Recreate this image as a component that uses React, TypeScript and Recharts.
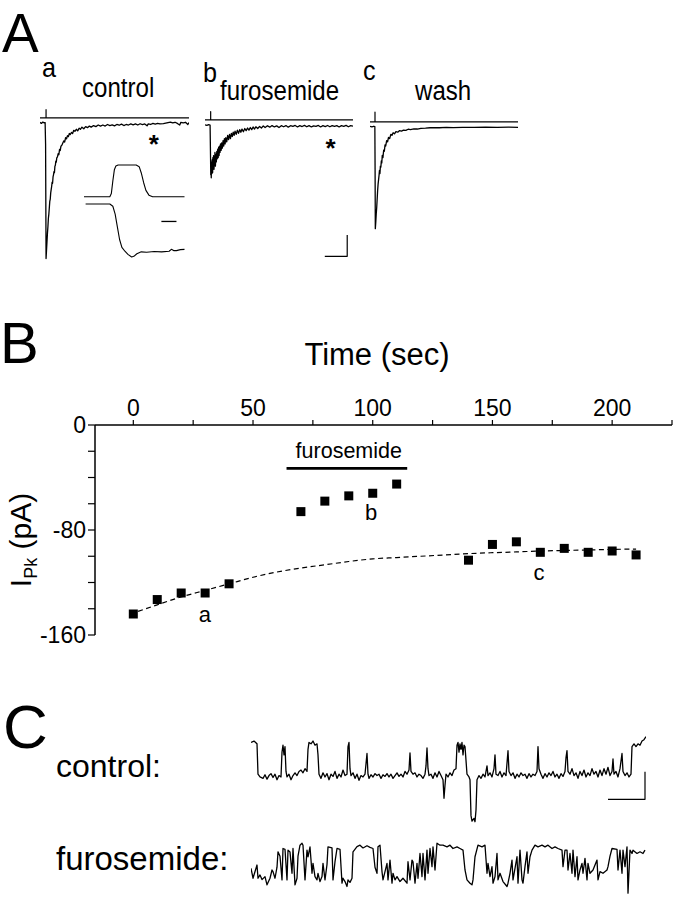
import React from 'react';
import { LineChart, Line, XAxis, YAxis, ComposedChart, Scatter, ReferenceDot } from 'recharts';

const FONT = '"Liberation Sans", Arial, Helvetica, sans-serif';

// ---------- Panel B: peak current vs time ----------
const bTimeSec = [0, 10, 20, 30, 40, 70, 80, 90, 100, 110, 140, 150, 160, 170, 180, 190, 200, 210];
const bPeakCurrent = [-144, -133, -128, -128, -121, -66, -58, -54, -52, -45, -103, -91, -89, -97, -94, -97, -96, -99];
const bFitTime = [2, 10, 20, 30, 40, 50, 60, 70, 80, 90, 100, 110, 120, 130, 140, 150, 160, 170, 180, 190, 200, 210];
const bFitCurrent = [-142, -137, -131, -126, -121, -116, -112, -109, -106.5, -104, -102, -101, -100, -99, -98, -97.3, -96.7, -96, -95.6, -95.2, -94.8, -94.5];
const bXTicks = [0, 25, 50, 75, 100, 125, 150, 175, 200, 225];
const bXLabeled = [0, 50, 100, 150, 200];
const bYTicks = [-160, -140, -120, -100, -80, -60, -40, -20, 0];
const bYLabeled = [0, -80, -160];
const bDrugBar: [number, number][] = [[64, -33], [114.4, -33]];

// ---------- Panel A: whole-cell currents (t ms, I pA) ----------
const aControlCurrent: [number, number][] = [
  [0, 0.5], [6, -0.5], [12, 0.8], [18, 0], [22, 0.3], [24, -20], [26, -128], [28, -120], [30, -112], [32, -104],
  [34, -98], [36, -90], [38, -86], [40, -80], [42, -74], [44, -72], [46, -66], [48, -63], [50, -60], [52, -56],
  [54, -57], [56, -51], [58, -49], [60, -46], [62, -47], [64, -41], [66, -40], [68, -36], [70, -37], [72, -33],
  [75, -32], [78, -29], [81, -30], [84, -25], [87, -26], [90, -22], [94, -21], [98, -19], [102, -17], [106, -18],
  [110, -14], [114, -15], [118, -12], [122, -13], [126, -10], [130, -11], [135, -9], [140, -10], [145, -7], [150, -8],
  [156, -6], [162, -7.5], [168, -5], [174, -6], [180, -4], [188, -5.5], [196, -3.5], [204, -4.5], [212, -3], [220, -4],
  [230, -2.5], [240, -3.5], [250, -2], [260, -3], [270, -2], [280, -3], [290, -1.5], [300, -2.5], [310, -1.8], [320, -2.8],
  [330, -1.5], [340, -2.2], [350, -1.2], [360, -2.5], [370, -1.5], [380, -2], [390, -1], [400, -1.8], [410, -1], [420, -2],
  [430, -0.8], [440, -1.6], [450, -1], [460, -2.8], [465, -1], [475, -1.5], [485, -0.5], [495, -1.2], [505, -0.5], [515, -1],
  [530, -0.6], [550, 0.3], [560, 0.8], [570, 0], [580, 0.6], [590, -0.5], [600, -2], [605, 0.5], [615, 0], [625, 0.6],
  [635, -1.5], [640, 0.3],
];
const aFuroCurrent: [number, number][] = [
  [0, 1], [8, 0.5], [16, 1.2], [22, 0.8], [24, -30], [25, -46], [26, -34], [27, -49], [28, -38], [30, -45],
  [31, -32], [33, -44], [34, -30], [36, -40], [37, -28], [39, -41], [40, -30], [42, -36], [43, -25], [45, -38],
  [47, -27], [49, -34], [51, -24], [53, -31], [55, -22], [57, -30], [59, -20], [61, -28], [63, -19], [65, -25],
  [67, -17], [70, -23], [72, -16], [75, -21], [78, -14], [81, -19], [84, -12], [87, -17], [90, -11], [94, -15],
  [98, -9], [102, -13], [106, -8], [110, -12], [114, -7], [118, -10], [122, -6], [126, -9], [130, -5], [135, -8],
  [140, -4], [145, -7], [150, -3.5], [155, -6], [160, -3], [166, -5.5], [172, -2.5], [178, -4.5], [184, -2], [190, -4],
  [196, -1.5], [202, -3.5], [208, -1], [214, -3], [220, -0.8], [228, -2.5], [236, -0.5], [244, -2], [252, 0], [260, -1.5],
  [270, 0.2], [280, -1.2], [290, 0.3], [300, -1], [310, 0], [320, -1.5], [330, 0.2], [340, -0.8], [350, 0.3], [360, -1.2],
  [370, 0.2], [380, -0.5], [390, 0.4], [400, -1], [410, 0.2], [420, -0.6], [430, 0.5], [440, -0.8], [450, 0.3], [460, -1],
  [470, 0], [480, -0.5], [490, 0.4], [500, -1], [510, 0.2], [520, -0.6], [530, 0.4], [540, -0.8], [550, 0.3], [560, -0.5],
  [570, 0.2], [580, -1], [590, 0.3], [600, -0.4], [610, 0.5], [620, -0.8], [630, 0.2], [640, -0.3],
];
const aWashCurrent: [number, number][] = [
  [0, 0.5], [8, 0], [16, 0.6], [21, 0.2], [22, -40], [23, -96], [25, -90], [27, -82], [29, -76], [31, -68],
  [33, -60], [35, -54], [37, -50], [39, -46], [41, -41], [43, -44], [45, -37], [47, -38], [49, -32], [51, -34],
  [53, -27], [56, -29], [59, -22], [62, -23], [65, -17], [68, -18], [72, -13], [76, -14], [80, -10], [85, -11],
  [90, -7], [95, -8], [100, -5.5], [106, -6.5], [112, -4.5], [120, -5], [128, -3.5], [136, -4], [145, -3], [155, -3.3],
  [165, -2.2], [175, -2.6], [190, -1.8], [205, -2], [220, -1.3], [240, -1.1], [260, -0.8], [280, -0.7], [300, -0.8], [330, -0.5],
  [360, -0.6], [400, -0.4], [450, -0.5], [500, -0.3], [550, -0.4], [600, -0.3], [640, -0.4],
];
const aStimControl: [number, number][] = [[0, 4.7], [26, 4.7], [26, 12.5], [26, 4.7], [640, 4.7]];
const aStimFuro: [number, number][] = [[0, 5.7], [24.5, 5.7], [24.5, 13.5], [24.5, 5.7], [640, 5.7]];
const aStimWash: [number, number][] = [[0, 4.7], [21.6, 4.7], [21.6, 14], [21.6, 4.7], [640, 4.7]];
const aScaleBar: [number, number][] = [[518, -123], [615, -123], [615, -103]];

// inset (control): stimulus step and response, normalised units
const insetStep: [number, number][] = [
  [0, 0], [25.7, 0], [27.2, 0.1], [28.7, 0.5], [30.2, 0.85], [31.7, 0.97], [34, 1], [51.9, 1], [54.9, 0.95],
  [57, 0.75], [59.3, 0.45], [61.6, 0.2], [64.6, 0.05], [68.3, 0], [100, 0],
];
const insetResponse: [number, number][] = [
  [1.6, -0.23], [25.7, -0.23], [28.7, -0.3], [31, -0.55], [33.2, -0.95], [35.4, -1.35], [37.7, -1.6], [40.7, -1.72],
  [43.7, -1.82], [47.4, -1.9], [49.6, -1.88], [52.6, -1.8], [57, -1.74], [62.3, -1.75], [69.8, -1.73], [77.2, -1.74],
  [84.7, -1.72], [86.9, -1.66], [89.2, -1.7], [92, -1.7], [95.9, -1.67], [100, -1.66],
];
const insetBar: [number, number][] = [[77, -0.78], [92, -0.78]];

// ---------- Panel C: single channel records (t ms, I pA) ----------
const cControlChannel: [number, number][] = [
  [0, 1.25], [3, 1.3], [6, 1.2], [7, 0.1], [9, 0], [12, -0.05], [14, 0.08], [16, -0.08], [18, 0.05], [20, 0.12],
  [22, -0.02], [24, 0.1], [26, -0.1], [28, 0.05], [30, 0], [31, 0.9], [32, 1.15], [33, 0.8], [34, 1.1], [35, 0.2],
  [36, 0], [38, 0.1], [40, -0.1], [42, 0.05], [44, 0.15], [46, 0.05], [48, 0.2], [50, 0.25], [52, 0.15], [54, 0.3],
  [56, 0.2], [57, 1.0], [58, 1.25], [60, 1.2], [62, 1.3], [64, 1.15], [66, 1.2], [67, 0.8], [68, 0.1], [70, -0.05],
  [72, 0.15], [74, 0], [76, 0.12], [78, -0.1], [80, 0.1], [82, 0.02], [84, 0.2], [86, -0.05], [88, 0.1], [90, 0],
  [92, 0.25], [94, 0.05], [96, 0.1], [97, 1.1], [98, 1.25], [99, 0.3], [100, 0.05], [102, 0.15], [104, -0.05], [106, 0.1],
  [108, -0.12], [110, 0.05], [112, 0], [114, 0.1], [116, 0.85], [117, 0.1], [118, -0.05], [120, 0.08], [122, 0], [124, 0.12],
  [126, 0.05], [128, 0.1], [130, -0.05], [132, 0.08], [134, 0.02], [136, 0.12], [138, 0], [140, 0.1], [142, -0.05], [144, 0.05],
  [146, 0.15], [148, 0.02], [150, 0.1], [152, 0], [154, 0.2], [156, 0.1], [158, 0.25], [159, 0.87], [160, 0.2], [162, 0.1],
  [164, 0.15], [166, 0], [168, 0.1], [170, 0.05], [172, -0.05], [174, 0.1], [175, 0.4], [176, 1.05], [177, 0.3], [178, 0.05],
  [180, 0.1], [182, -0.05], [184, 0.15], [186, 0], [188, 0.2], [190, 0.05], [192, -0.1], [193, -0.77], [194, -0.3], [195, 0.1],
  [197, 0], [199, 0.15], [201, 0.05], [203, 0.25], [205, 0.3], [206, 1.15], [207, 1.25], [208, 0.9], [209, 1.2], [210, 1.0],
  [211, 1.25], [212, 0.8], [213, 1.15], [214, 1.1], [215, 0.6], [216, 0.1], [218, 0], [219, -0.1], [220, -1.4], [221, -1.6],
  [223, -1.5], [224, -1.62], [225, -1.2], [226, -0.1], [228, 0.05], [230, -0.05], [232, 0.1], [234, 0], [236, 0.4], [237, 0.05],
  [239, 0.15], [241, 0], [243, 0.3], [244, 0.8], [245, 0.1], [247, 0.05], [249, 0.2], [251, 0], [253, 0.15], [255, 0.05],
  [256, 0.5], [257, 0.95], [258, 0.2], [260, 0.05], [262, 0.15], [264, -0.05], [266, 0.1], [268, 0], [270, 0.15], [272, 0.05],
  [274, 0.1], [276, -0.05], [278, 0.12], [280, 0], [282, 0.1], [284, 0.05], [286, 0.2], [287, 1.1], [288, 0.3], [290, 0.1],
  [292, -0.05], [294, 0.12], [296, 0], [298, 0.15], [300, 0.05], [302, 0.2], [304, 0], [306, 0.1], [308, -0.05], [310, 0.12],
  [312, 0.02], [314, 0.2], [315, 0.7], [316, 0.95], [317, 0.2], [319, 0.1], [321, 0.3], [323, 0.05], [325, 0.15], [327, -0.05],
  [329, 0.2], [331, 0.05], [333, 0.25], [335, 0], [337, 0.15], [339, 0.05], [341, 0.3], [343, 0.1], [345, 0.2], [347, 0],
  [349, 0.25], [351, 0.05], [353, 0.3], [355, 0.1], [357, 0.35], [359, 0.05], [361, 0.2], [362, 0.65], [363, 0.1], [365, 0.2],
  [367, 0], [369, 0.3], [371, 0.85], [372, 0.2], [374, 0.05], [376, 0.15], [378, 0], [380, 0.1], [381, 1.1], [383, 1.2],
  [385, 1.1], [387, 1.2], [389, 1.15], [391, 1.3], [393, 1.35], [395, 1.46],
];
const cControlScale: [number, number][] = [[357, -0.81], [394, -0.81], [394, 0.19]];

const cFuroChannel: [number, number][] = [
  [0, 0.46], [2, 0.1], [6, 0.58], [7, 0.1], [9, 0.22], [11, 0.05], [14, 0.16], [16, -0.14], [19, 0.1], [21, 0.4],
  [22, 0.34], [24, 0.1], [26, 0.5], [27, 1.06], [29, 0.9], [31, 0.04], [32, 1.18], [34, 1.15], [36, 0.04], [37, 1.12],
  [39, 1.05], [41, 0.28], [42, 1.18], [44, -0.14], [46, 0.1], [47, 0.9], [49, 1.3], [51, 1.37], [52, 1.3], [54, 0.04],
  [56, 1.12], [57, 0.88], [59, 1.24], [61, 0.28], [62, 0.64], [64, 0.16], [66, 0.04], [67, 0.28], [69, -0.02], [71, 0.16],
  [72, 0.64], [74, 0.04], [76, 0.6], [77, 1.24], [81, 1.2], [82, 0.04], [84, 0.7], [86, 1.18], [89, 1.15], [91, -0.08],
  [92, 0.1], [94, -0.02], [96, -0.2], [97, 0.04], [99, -0.05], [101, 0.1], [102, 1.06], [106, 1.25], [109, 1.3], [112, 1.2],
  [116, 1.28], [119, 1.22], [122, 1.18], [124, 0.5], [126, 0.28], [127, 1.24], [129, 1.3], [131, 0.34], [132, 0.04], [136, 0.64],
  [137, 0.04], [139, 0.76], [141, -0.08], [142, 0.28], [144, 0.04], [146, 0.16], [149, -0.02], [152, 0.1], [156, -0.08], [157, 0.7],
  [159, 0.04], [161, 0.76], [162, 0.7], [164, -0.08], [166, 0.64], [167, 0.1], [169, 1.0], [171, 0.16], [172, 1.0], [174, 0.04],
  [176, 1.12], [177, 0.28], [179, 1.18], [181, 0.52], [182, 1.24], [184, 0.4], [186, 1.37], [189, 1.3], [192, 1.3], [196, 1.24],
  [199, 1.3], [202, 1.18], [206, 1.24], [209, 1.18], [212, 1.12], [214, 0.4], [216, 0.04], [219, -0.08], [221, -0.14], [222, 0.04],
  [224, 0.88], [227, 1.3], [231, 1.24], [234, 1.3], [236, 0.28], [237, 0.64], [239, 0.16], [241, 0.52], [242, -0.08], [244, 0.16],
  [246, 1.0], [247, 0.04], [249, 0.28], [252, -0.02], [256, -0.2], [257, -0.08], [259, 0.28], [261, 0.76], [262, 0.04], [266, 0.88],
  [267, -0.08], [269, 1.12], [271, 0.04], [272, -0.08], [274, 0.52], [276, 1.06], [277, 0.28], [279, 0.88], [281, 1.12], [284, 1.3],
  [287, 1.24], [291, 1.3], [294, 1.24], [297, 1.3], [301, 1.18], [304, 1.24], [307, 1.18], [311, 1.12], [312, 0.52], [314, 1.12],
  [316, 1.12], [317, 0.4], [319, 1.0], [321, 0.28], [322, 1.12], [324, 0.16], [326, 0.88], [327, 0.04], [329, 0.4], [331, 0.64],
  [332, 0.28], [334, 0.82], [336, 0.04], [337, 0.64], [339, 0.28], [342, 0.4], [346, 0.76], [347, 0.04], [349, 0.34], [352, 0.28],
  [356, 0.4], [357, 0.52], [359, 0.9], [361, 1.18], [366, 1.15], [367, 0.4], [369, 1.12], [371, 0.28], [372, 1.12], [374, 0.52],
  [376, 1.24], [377, -0.44], [379, 1.12], [381, 1.0], [382, 1.12], [386, 1.0], [389, 1.06], [392, 1.0], [394, 1.12],
];

const toRows = (pts: [number, number][]) => pts.map(([t, v]) => ({ t, v }));

const TextAt = (props: any) => {
  const { viewBox, text, size, weight, anchor } = props;
  const x = viewBox.x + (viewBox.width || 0) / 2;
  const y = viewBox.y + (viewBox.height || 0) / 2;
  return (
    <text x={x} y={y} textAnchor={anchor || 'middle'} fontSize={size} fontWeight={weight || 'normal'} fontFamily={FONT} fill="#000">
      {text}
    </text>
  );
};

type Series = { data: [number, number][]; w?: number };

function Trace(props: {
  left: number; top: number; width: number; height: number;
  xDomain: [number, number]; yDomain: [number, number];
  series: Series[]; children?: React.ReactNode;
}) {
  const { left, top, width, height, xDomain, yDomain, series, children } = props;
  return (
    <div style={{ position: 'absolute', left, top, width, height }}>
      <LineChart width={width} height={height} margin={{ top: 0, right: 0, bottom: 0, left: 0 }}>
        <XAxis type="number" dataKey="t" domain={xDomain} hide />
        <YAxis type="number" domain={yDomain} hide />
        {series.map((s, i) => (
          <Line key={i} data={toRows(s.data)} dataKey="v" type="linear" dot={false} stroke="#000"
            strokeWidth={s.w ?? 1.3} isAnimationActive={false} strokeLinejoin="round" />
        ))}
        {children}
      </LineChart>
    </div>
  );
}

const XTick = (props: any) => {
  const { x, y, payload } = props;
  if (!bXLabeled.includes(payload.value)) return null;
  return <text x={x} y={y} textAnchor="middle" fontSize={23} fontFamily={FONT} fill="#000">{payload.value}</text>;
};
const YTick = (props: any) => {
  const { x, y, payload } = props;
  if (!bYLabeled.includes(payload.value)) return null;
  return <text x={x} y={y} dy={8} textAnchor="end" fontSize={23} fontFamily={FONT} fill="#000">{payload.value}</text>;
};

// condensed label helper for panel A headings
const Cond = ({ x, y, size, sx, children }: { x: number; y: number; size: number; sx: number; children: React.ReactNode }) => (
  <text transform={`translate(${x}, ${y}) scale(${sx}, 1)`} fontSize={size}>{children}</text>
);

export default function App() {
  const bPoints = bTimeSec.map((t, i) => ({ t, v: bPeakCurrent[i] }));
  const bFit = bFitTime.map((t, i) => ({ t, v: bFitCurrent[i] }));
  const square = (p: any) => <rect x={p.cx - 4.5} y={p.cy - 4.5} width={9} height={9} fill="#000" />;

  return (
    <div style={{ position: 'absolute', left: 0, top: 0, width: 693, height: 900, background: '#fff', overflow: 'hidden' }}>
      {/* Panel A traces */}
      <Trace left={40} top={107.4} width={149} height={164.3} xDomain={[0, 640]} yDomain={[-140, 15]}
        series={[{ data: aStimControl, w: 1.2 }, { data: aControlCurrent }]}>
        <ReferenceDot x={489} y={-28} r={0} fill="none" stroke="none" label={<TextAt text="*" size={26} weight="bold" />} />
      </Trace>
      <Trace left={84} top={160} width={100.5} height={102} xDomain={[0, 100]} yDomain={[-2.06, 1.16]}
        series={[{ data: insetStep, w: 1.1 }, { data: insetResponse, w: 1.1 }, { data: insetBar, w: 1.3 }]} />
      <Trace left={205} top={110.1} width={148} height={164.3} xDomain={[0, 640]} yDomain={[-140, 15]}
        series={[{ data: aStimFuro, w: 1.2 }, { data: aFuroCurrent }, { data: aScaleBar, w: 1.2 }]}>
        <ReferenceDot x={543} y={-29} r={0} fill="none" stroke="none" label={<TextAt text="*" size={26} weight="bold" />} />
      </Trace>
      <Trace left={370} top={110.6} width={148} height={164.3} xDomain={[0, 640]} yDomain={[-140, 15]}
        series={[{ data: aStimWash, w: 1.2 }, { data: aWashCurrent }]} />

      {/* Panel B */}
      <div style={{ position: 'absolute', left: 0, top: 300, width: 693, height: 360 }}>
        <ComposedChart width={693} height={360} margin={{ top: 95, right: 21, bottom: 25, left: 35 }}>
          <XAxis xAxisId={0} type="number" dataKey="t" orientation="top" height={30} domain={[-16, 225]} ticks={bXTicks}
            interval={0} tickSize={5} tickMargin={4} axisLine={{ stroke: '#000', strokeWidth: 1.5 }}
            tickLine={{ stroke: '#000', strokeWidth: 1.2 }} tick={<XTick />} />
          <YAxis yAxisId={0} type="number" width={60} domain={[-160, 0]} ticks={bYTicks} interval={0} tickSize={7} tickMargin={2}
            axisLine={{ stroke: '#000', strokeWidth: 1.5 }} tickLine={{ stroke: '#000', strokeWidth: 1.2 }} tick={<YTick />} />
          <Line data={bFit} dataKey="v" type="monotone" dot={false} stroke="#000" strokeWidth={1.2}
            strokeDasharray="5 3.5" isAnimationActive={false} />
          <Line data={toRows(bDrugBar)} dataKey="v" type="linear" dot={false} stroke="#000" strokeWidth={2.7}
            isAnimationActive={false} />
          <Scatter data={bPoints} dataKey="v" shape={square} isAnimationActive={false} />
          <ReferenceDot x={90} y={-25.1} r={0} fill="none" stroke="none" label={<TextAt text="furosemide" size={21.5} />} />
          <ReferenceDot x={29.9} y={-149.8} r={0} fill="none" stroke="none" label={<TextAt text="a" size={22} />} />
          <ReferenceDot x={99.3} y={-72.4} r={0} fill="none" stroke="none" label={<TextAt text="b" size={22} />} />
          <ReferenceDot x={169.4} y={-118.1} r={0} fill="none" stroke="none" label={<TextAt text="c" size={22} />} />
        </ComposedChart>
      </div>

      {/* Panel C traces */}
      <Trace left={251} top={730} width={395} height={100} xDomain={[0, 395]} yDomain={[-1.92, 1.7]}
        series={[{ data: cControlChannel }, { data: cControlScale, w: 1.2 }]} />
      <Trace left={251} top={835} width={395} height={65} xDomain={[0, 395]} yDomain={[-0.69, 1.67]}
        series={[{ data: cFuroChannel }]} />

      {/* Text overlay */}
      <svg width={693} height={900} style={{ position: 'absolute', left: 0, top: 0, pointerEvents: 'none' }}
        fontFamily={FONT} fill="#000">
        <text x={2} y={52} fontSize={55}>A</text>
        <Cond x={42} y={77} size={28} sx={0.9}>a</Cond>
        <Cond x={82} y={97} size={28} sx={0.86}>control</Cond>
        <Cond x={203} y={82} size={28} sx={0.9}>b</Cond>
        <Cond x={220} y={100} size={28} sx={0.86}>furosemide</Cond>
        <Cond x={363} y={80} size={28} sx={0.9}>c</Cond>
        <Cond x={415} y={100} size={28} sx={0.86}>wash</Cond>

        <text x={0} y={363} fontSize={58}>B</text>
        <text x={377} y={365} fontSize={31} textAnchor="middle">Time (sec)</text>
        <text transform="translate(31, 540) rotate(-90)" textAnchor="middle" fontSize={30}>
          <tspan>I</tspan><tspan fontSize={18} dy={6}>Pk</tspan><tspan dy={-6}> (pA)</tspan>
        </text>

        <text x={3} y={748} fontSize={62}>C</text>
        <text x={56} y={777} fontSize={32}>control:</text>
        <text x={56} y={870} fontSize={33}>furosemide:</text>
      </svg>
    </div>
  );
}
